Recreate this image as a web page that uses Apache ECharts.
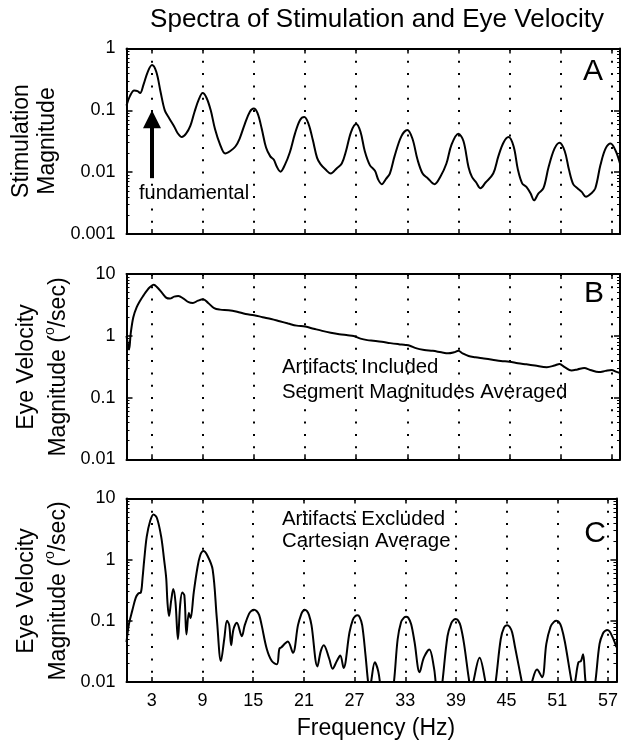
<!DOCTYPE html>
<html>
<head>
<meta charset="utf-8">
<script src="https://cdn.jsdelivr.net/npm/echarts@6/dist/echarts.min.js"></script>
<style>
html, body { margin: 0; padding: 0; background: #fff; }
#chart { width: 621px; height: 742px; }
</style>
</head>
<body>
<div id="chart"></div>
<script>
const FONT = '"Liberation Sans", Arial, Helvetica, sans-serif';

// Tick positions
const freqTicks = [3, 9, 15, 21, 27, 33, 39, 45, 51, 57];
const stimDecades = [0.001, 0.01, 0.1, 1];
const eyeDecades = [0.01, 0.1, 1, 10];

// Panel A: stimulation spectrum [Hz, magnitude]
const stimulation = [
  [0, 0.12], [0.4, 0.17], [0.9, 0.21], [1.3, 0.205], [1.6, 0.19], [2.0, 0.26], [2.5, 0.42],
  [3.0, 0.54], [3.5, 0.42], [4.0, 0.2], [4.5, 0.1], [5.0, 0.075], [5.6, 0.055], [6.0, 0.043],
  [6.5, 0.037], [7.0, 0.042], [7.5, 0.056], [8.0, 0.095], [8.5, 0.15], [8.95, 0.19], [9.4, 0.16],
  [9.9, 0.1], [10.4, 0.05], [11.0, 0.028], [11.6, 0.02], [12.2, 0.022], [12.8, 0.026], [13.3, 0.035],
  [13.9, 0.06], [14.5, 0.095], [14.95, 0.107], [15.4, 0.09], [15.9, 0.05], [16.4, 0.025], [16.9, 0.018],
  [17.3, 0.016], [17.7, 0.012], [18.1, 0.0102], [18.6, 0.013], [19.2, 0.021], [19.8, 0.042], [20.4, 0.07],
  [20.9, 0.078], [21.4, 0.06], [21.9, 0.033], [22.4, 0.017], [22.8, 0.0135], [23.4, 0.011], [24.0, 0.0095],
  [24.7, 0.0115], [25.3, 0.0138], [25.8, 0.022], [26.4, 0.045], [27.0, 0.06], [27.5, 0.045], [28.0, 0.022],
  [28.6, 0.013], [29.2, 0.0105], [29.6, 0.0075], [30.0, 0.0064], [30.5, 0.0078], [30.95, 0.0095],
  [31.5, 0.018], [32.3, 0.038], [33.0, 0.048], [33.6, 0.035], [34.2, 0.016], [34.8, 0.0095], [35.4, 0.008],
  [36.2, 0.0064], [36.9, 0.0085], [37.6, 0.0138], [38.2, 0.028], [39.0, 0.042], [39.6, 0.032], [40.2, 0.012],
  [40.6, 0.0084], [41.1, 0.0068], [41.6, 0.0055], [42.2, 0.0068], [43.1, 0.0095], [43.7, 0.018], [44.3, 0.03],
  [44.9, 0.037], [45.5, 0.026], [46.0, 0.011], [46.5, 0.0066], [47.0, 0.0058], [47.5, 0.0045], [47.9, 0.0035],
  [48.4, 0.0045], [49.0, 0.0055], [49.6, 0.012], [50.3, 0.024], [50.9, 0.030], [51.5, 0.022], [52.0, 0.011],
  [52.5, 0.0064], [53.0, 0.0055], [53.5, 0.0048], [54.0, 0.004], [54.6, 0.0045], [55.1, 0.0055], [55.7, 0.013],
  [56.3, 0.024], [56.9, 0.029], [57.5, 0.022], [58, 0.0138]
];

// Panel B: eye velocity, artifacts included, segment magnitudes averaged
const eyeIncluded = [
  [0, 1.0], [0.15, 0.75], [0.3, 0.6], [0.5, 1.1], [0.8, 2.0], [1.2, 2.9], [1.6, 3.7], [2.0, 4.5],
  [2.4, 5.4], [2.8, 6.2], [3.2, 6.7], [3.6, 6.1], [4.2, 4.9], [4.7, 4.1], [5.1, 4.0], [5.6, 4.3],
  [6.1, 4.4], [6.7, 4.0], [7.3, 3.5], [7.8, 3.4], [8.4, 3.7], [9.0, 3.9], [9.6, 3.4], [10.3, 2.8],
  [11.0, 2.65], [12.0, 2.6], [13.0, 2.45], [14.0, 2.25], [15.0, 2.15], [16.0, 2.0], [17.0, 1.87],
  [18.0, 1.72], [19.0, 1.58], [20.0, 1.46], [21.0, 1.41], [22.0, 1.3], [23.0, 1.2], [24.0, 1.12],
  [25.0, 1.06], [26.0, 1.02], [26.7, 0.99], [27.5, 0.9], [28.3, 0.85], [29.0, 0.83], [30.0, 0.8],
  [31.0, 0.76], [32.0, 0.73], [32.8, 0.71], [33.3, 0.69], [34.0, 0.63], [35.0, 0.59], [36.0, 0.57],
  [37.0, 0.54], [37.8, 0.52], [38.5, 0.54], [39.0, 0.57], [39.5, 0.52], [40.2, 0.47], [41.0, 0.45],
  [42.0, 0.43], [43.0, 0.41], [44.0, 0.39], [45.0, 0.38], [46.0, 0.36], [47.0, 0.345], [48.0, 0.33],
  [49.4, 0.31], [50.3, 0.33], [50.9, 0.35], [51.5, 0.31], [52.3, 0.275], [53.0, 0.285], [53.8, 0.3],
  [54.5, 0.28], [55.5, 0.258], [56.3, 0.27], [57.0, 0.28], [57.6, 0.26], [58, 0.25]
];

// Panel C: eye velocity, artifacts excluded, cartesian average
const eyeExcluded = [
  [0, 0.045], [0.3, 0.09], [0.7, 0.15], [1.1, 0.24], [1.4, 0.28], [1.7, 0.29], [1.9, 0.5], [2.1, 1.0],
  [2.4, 2.4], [2.8, 4.3], [3.2, 5.5], [3.6, 4.8], [4.1, 2.4], [4.45, 1.0], [4.7, 0.5], [4.85, 0.2],
  [5.03, 0.12], [5.3, 0.22], [5.54, 0.33], [5.8, 0.2], [6.09, 0.05], [6.35, 0.18], [6.6, 0.29],
  [6.85, 0.26], [7.1, 0.06], [7.38, 0.136], [7.58, 0.11], [7.96, 0.29], [8.36, 0.69], [8.7, 1.15],
  [9.1, 1.38], [9.6, 1.15], [10.2, 0.69], [10.7, 0.107], [11.18, 0.022], [11.57, 0.05], [11.9, 0.1],
  [12.16, 0.085], [12.39, 0.04], [12.66, 0.072], [13.06, 0.093], [13.65, 0.056], [14.0, 0.085],
  [14.5, 0.13], [14.8, 0.146], [15.1, 0.152], [15.4, 0.145], [15.7, 0.125], [16.0, 0.085], [16.6, 0.035],
  [17.2, 0.022], [17.8, 0.0195],
  [18.1, 0.035], [18.35, 0.037], [18.8, 0.043], [19.1, 0.046], [19.7, 0.030], [20.3, 0.085], [20.7, 0.13],
  [20.9, 0.146], [21.1, 0.152], [21.35, 0.145], [21.6, 0.125], [21.9, 0.085], [22.6, 0.018], [23.0, 0.032],
  [23.35, 0.04], [24.0, 0.024],
  [24.4, 0.0165], [24.9, 0.022], [25.3, 0.027], [25.7, 0.017], [26.4, 0.065], [26.8, 0.105], [27.1, 0.12],
  [27.35, 0.123], [27.6, 0.115], [27.9, 0.085], [28.3, 0.027], [28.6, 0.01], [28.8, 0.007], [29.0, 0.011],
  [29.4, 0.021], [29.8, 0.015],
  [30.1, 0.008], [30.5, 0.004], [31.2, 0.004], [31.66, 0.01], [32.1, 0.05], [32.5, 0.095], [32.85, 0.113],
  [33.1, 0.117], [33.35, 0.113], [33.7, 0.088], [34.1, 0.045], [34.7, 0.0145], [35.2, 0.025], [35.85, 0.034],
  [36.4, 0.017], [36.6, 0.01],
  [36.9, 0.005], [37.1, 0.005], [37.4, 0.01], [38.0, 0.056], [38.45, 0.092], [38.75, 0.104], [38.97, 0.107],
  [39.25, 0.102], [39.55, 0.082], [39.96, 0.042], [40.5, 0.012], [40.8, 0.007], [41.05, 0.01], [41.8, 0.025],
  [42.5, 0.01], [42.9, 0.005],
  [43.3, 0.005], [43.7, 0.01], [44.3, 0.05], [44.7, 0.078], [45.05, 0.085], [45.35, 0.08], [45.65, 0.065],
  [46.0, 0.037], [46.8, 0.01], [47.2, 0.005], [47.6, 0.006], [48.0, 0.01], [48.6, 0.016], [49.2, 0.012],
  [49.7, 0.042], [50.2, 0.08], [50.6, 0.096], [50.9, 0.1], [51.2, 0.095], [51.5, 0.078], [51.9, 0.045],
  [52.7, 0.01], [52.9, 0.008], [53.1, 0.01],
  [53.5, 0.021], [53.8, 0.022], [54.05, 0.0285], [54.35, 0.01], [54.8, 0.005], [55.1, 0.005], [55.5, 0.01],
  [56.0, 0.042], [56.4, 0.062], [56.7, 0.069], [56.9, 0.071], [57.2, 0.067], [57.6, 0.052], [58, 0.037]
];

// Intermediate log ticks (2..9 within each decade)
function minorTicks(decades) {
  const out = [];
  for (let i = 0; i < decades.length - 1; i++) {
    for (let k = 2; k <= 9; k++) out.push(+(decades[i] * k).toPrecision(3));
  }
  return out;
}

const BLACK = '#000';
const grids = [
  { left: 126.5, right: 1, top: 48.5, height: 185.5 },
  { left: 126.5, right: 1, top: 274, height: 185.3 },
  { left: 126.5, right: 1, top: 498.5, height: 183.5 }
];

function xAxesFor(g, withLabels) {
  const line = { onZero: false, lineStyle: { color: BLACK, width: 2 } };
  const tick = { show: true, inside: true, length: 5, customValues: freqTicks, lineStyle: { color: BLACK, width: 1.5 } };
  return [
    {
      type: 'value', gridIndex: g, position: 'bottom', min: 0, max: 58,
      axisLine: line, axisTick: tick,
      axisLabel: { show: withLabels, customValues: freqTicks, color: BLACK, fontSize: 18, fontFamily: FONT, margin: 10 },
      splitLine: { show: true, lineStyle: { color: BLACK, width: 2, type: [2, 10.3] } },
      axisPointer: { show: false }
    },
    {
      type: 'value', gridIndex: g, position: 'top', min: 0, max: 58,
      axisLine: line, axisTick: tick, axisLabel: { show: false }, splitLine: { show: false }
    }
  ];
}

function yAxesFor(g, decades) {
  const minors = minorTicks(decades);
  const base = { type: 'log', logBase: 10, gridIndex: g, min: decades[0], max: decades[decades.length - 1], splitLine: { show: false } };
  const line = { show: true, onZero: false, lineStyle: { color: BLACK, width: 2 } };
  const noLine = { show: false, onZero: false };
  const major = { show: true, inside: true, length: 6, customValues: decades, lineStyle: { color: BLACK, width: 1.5 } };
  const minor = { show: true, inside: true, length: 3, customValues: minors, lineStyle: { color: BLACK, width: 1 } };
  return [
    Object.assign({}, base, {
      position: 'left', axisLine: line, axisTick: major,
      axisLabel: {
        show: true, customValues: decades, color: BLACK, fontSize: 18, fontFamily: FONT, margin: 11,
        formatter: v => String(+Number(v).toPrecision(6))
      }
    }),
    Object.assign({}, base, { position: 'left', axisLine: noLine, axisTick: minor, axisLabel: { show: false } }),
    Object.assign({}, base, { position: 'right', axisLine: line, axisTick: major, axisLabel: { show: false } }),
    Object.assign({}, base, { position: 'right', axisLine: noLine, axisTick: minor, axisLabel: { show: false } })
  ];
}

const xAxis = [].concat(xAxesFor(0, false), xAxesFor(1, false), xAxesFor(2, true));
const yAxis = [].concat(yAxesFor(0, stimDecades), yAxesFor(1, eyeDecades), yAxesFor(2, eyeDecades));

function curve(data, g, extra) {
  return Object.assign({
    type: 'line', data: data, xAxisIndex: g * 2, yAxisIndex: g * 4,
    showSymbol: false, symbol: 'none', smooth: 0.35, clip: true, silent: true,
    lineStyle: { color: BLACK, width: 2 }
  }, extra || {});
}

function txt(x, y, text, size, align, lineHeight, extra) {
  return Object.assign({
    type: 'text', x: x, y: y, silent: true,
    style: {
      text: text, fill: BLACK, fontSize: size, fontFamily: FONT,
      textAlign: align, textVerticalAlign: 'middle', lineHeight: lineHeight || size * 1.2
    }
  }, extra || {});
}

const eyeLabelRich = {
  a: { fontSize: 23, fontFamily: FONT, fill: BLACK, lineHeight: 32 },
  s: { fontSize: 14, fontFamily: FONT, fill: BLACK, lineHeight: 32, verticalAlign: 'top' }
};
function eyeLabel(cx, cy) {
  return {
    type: 'text', x: cx, y: cy, rotation: Math.PI / 2, silent: true,
    style: {
      text: '{a|Eye Velocity}\n{a|Magnitude (}{s|o}{a|/sec)}',
      rich: eyeLabelRich, textAlign: 'center', textVerticalAlign: 'middle'
    }
  };
}

const chart = echarts.init(document.getElementById('chart'), null, { renderer: 'canvas' });
chart.setOption({
  animation: false,
  backgroundColor: '#fff',
  grid: grids,
  xAxis: xAxis,
  yAxis: yAxis,
  series: [
    curve(stimulation, 0, {
      markLine: {
        silent: true, symbol: ['none', 'triangle'], symbolSize: 18,
        label: { show: false },
        lineStyle: { color: BLACK, width: 4, type: 'solid' },
        itemStyle: { color: BLACK },
        data: [[{ coord: [3, 0.008] }, { coord: [3, 0.072] }]]
      }
    }),
    curve(eyeIncluded, 1),
    curve(eyeExcluded, 2)
  ],
  graphic: [
    txt(377, 20, 'Spectra of Stimulation and Eye Velocity', 26, 'center'),
    txt(376, 729, 'Frequency (Hz)', 23, 'center'),
    {
      type: 'text', x: 35, y: 141, rotation: Math.PI / 2, silent: true,
      style: { text: 'Stimulation\nMagnitude', fill: BLACK, fontSize: 23, fontFamily: FONT, lineHeight: 26, textAlign: 'center', textVerticalAlign: 'middle' }
    },
    eyeLabel(43, 367),
    eyeLabel(43, 591),
    txt(593, 72, 'A', 30, 'center'),
    txt(594, 294, 'B', 30, 'center'),
    txt(595, 534, 'C', 30, 'center'),
    txt(139, 193, 'fundamental', 20, 'left'),
    txt(282, 380, 'Artifacts Included\nSegment Magnitudes Averaged', 20.4, 'left', 25),
    txt(282, 530.5, 'Artifacts Excluded\nCartesian Average', 20.4, 'left', 22)
  ]
});
</script>
</body>
</html>
